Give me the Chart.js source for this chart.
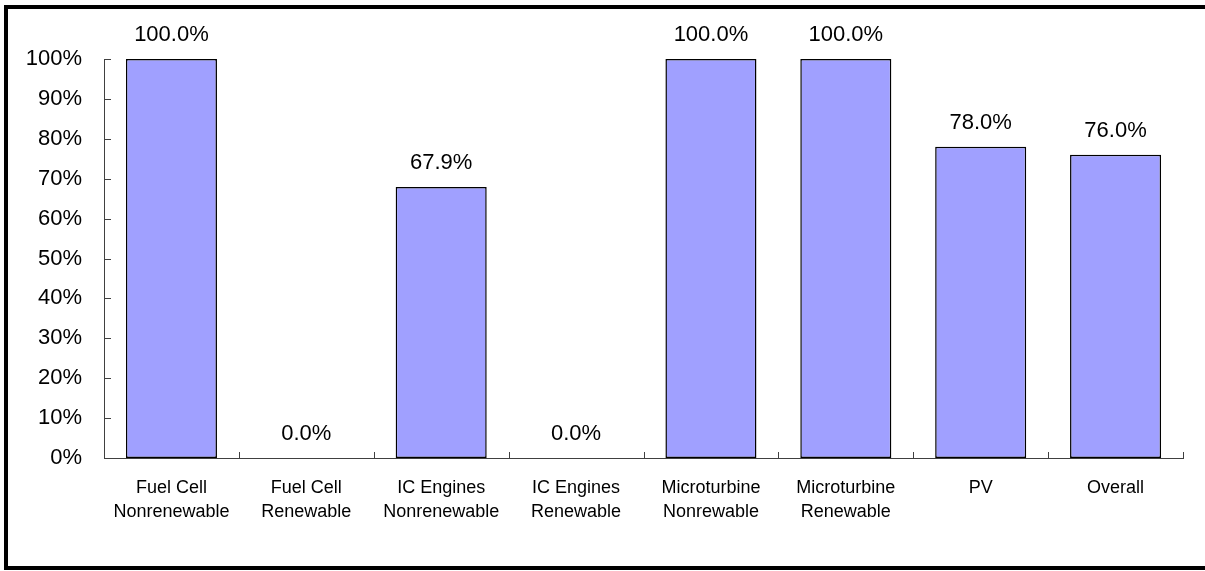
<!DOCTYPE html>
<html>
<head>
<meta charset="utf-8">
<script src="https://cdn.jsdelivr.net/npm/chart.js@4.4.1/dist/chart.umd.min.js"></script>
<style>
  html, body { margin: 0; padding: 0; background: #fff; }
  #wrap { position: relative; width: 1205px; height: 571px; overflow: hidden; }
  #frame {
    position: absolute; left: 4px; top: 5px; width: 1205px; height: 557px;
    border: 4px solid #000; pointer-events: none;
  }
  canvas { position: absolute; left: 0; top: 0; }
</style>
</head>
<body>
<div id="wrap">
  <canvas id="barChart" width="1205" height="571"></canvas>
  <div id="frame"></div>
</div>
<script>
// categories and values
const categories = [
    ['Fuel Cell', 'Nonrenewable'],
    ['Fuel Cell', 'Renewable'],
    ['IC Engines', 'Nonrenewable'],
    ['IC Engines', 'Renewable'],
    ['Microturbine', 'Nonrewable'],
    ['Microturbine', 'Renewable'],
    'PV',
    'Overall'
];
const shares = [100.0, 0.0, 67.9, 0.0, 100.0, 100.0, 78.0, 76.0];
const yTicks = [0, 10, 20, 30, 40, 50, 60, 70, 80, 90, 100];

// value labels above bars + small inside tick marks
const decorations = {
    id: 'decorations',
    afterDatasetsDraw(chart) {
        const ctx = chart.ctx;
        const meta = chart.getDatasetMeta(0);
        ctx.save();
        ctx.fillStyle = '#000';
        ctx.font = '22px "Liberation Sans", Arial, sans-serif';
        ctx.textAlign = 'center';
        ctx.textBaseline = 'middle';
        meta.data.forEach((bar, i) => {
            ctx.fillText(shares[i].toFixed(1) + '%', bar.x, bar.y - 24);
        });

        const x = chart.scales.x, y = chart.scales.y;
        ctx.strokeStyle = '#404040';
        ctx.lineWidth = 1;
        ctx.beginPath();
        yTicks.forEach(v => {
            const py = Math.round(y.getPixelForValue(v)) + 0.5;
            ctx.moveTo(x.left, py);
            ctx.lineTo(x.left + 7, py);
        });
        const step = (x.right - x.left) / categories.length;
        for (let i = 1; i <= categories.length; i++) {
            const px = Math.round(x.left + i * step) + 0.5;
            ctx.moveTo(px, y.bottom);
            ctx.lineTo(px, y.bottom - 6);
        }
        ctx.stroke();
        ctx.restore();
    }
};

const barChart = document.getElementById('barChart');

new Chart(barChart, {
    type: 'bar',
    data: {
        labels: categories,
        datasets: [
            {
                label: 'Share',
                data: shares,
                backgroundColor: '#a0a0ff',
                borderColor: '#000',
                borderWidth: 1.5,
                borderSkipped: false,
                categoryPercentage: 1,
                barPercentage: 0.675
            }
        ]
    },
    options: {
        responsive: false,
        animation: false,
        layout: { padding: { left: 8, right: 22, top: 59, bottom: 23 } },
        plugins: {
            legend: { display: false },
            tooltip: { enabled: false }
        },
        scales: {
            x: {
                afterFit: s => { s.height = 90; },
                grid: { display: false, drawTicks: false },
                border: { display: true, color: '#404040', width: 1 },
                ticks: {
                    color: '#000',
                    padding: 18,
                    maxRotation: 0,
                    autoSkip: false,
                    font: { family: '"Liberation Sans", Arial, sans-serif', size: 18, lineHeight: 1.33 }
                }
            },
            y: {
                min: 0,
                max: 100,
                afterFit: s => { s.width = 96; },
                afterBuildTicks: s => { s.ticks = yTicks.map(v => ({ value: v })); },
                grid: { display: false, drawTicks: false },
                border: { display: true, color: '#404040', width: 1 },
                ticks: {
                    color: '#000',
                    padding: 22,
                    callback: v => v + '%',
                    font: { family: '"Liberation Sans", Arial, sans-serif', size: 22 }
                }
            }
        }
    },
    plugins: [decorations]
});
</script>
</body>
</html>
